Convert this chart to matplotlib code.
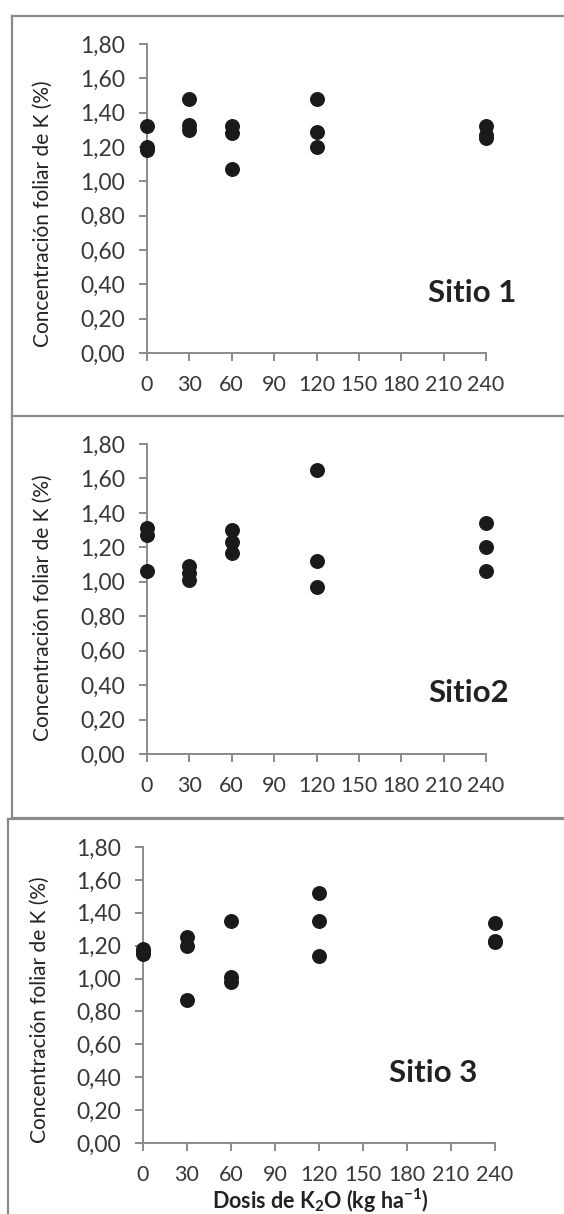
# Concentracion foliar de K segun dosis de K2O, tres sitios
import matplotlib
matplotlib.use('Agg')
from matplotlib import pyplot as plt
from matplotlib.lines import Line2D
from matplotlib.ticker import FuncFormatter

plt.rcParams['font.family'] = ['Lato', 'DejaVu Sans']
plt.rcParams['mathtext.fontset'] = 'custom'
plt.rcParams['mathtext.rm'] = 'Lato'
plt.rcParams['mathtext.bf'] = 'Lato:bold'

# Datos (dosis en kg/ha, concentracion en %)
dosis = [0, 0, 0, 30, 30, 30, 60, 60, 60, 120, 120, 120, 240, 240, 240]
sitio1 = [1.32, 1.20, 1.18, 1.48, 1.33, 1.30, 1.32, 1.28, 1.07,
          1.48, 1.29, 1.20, 1.32, 1.27, 1.25]
sitio2 = [1.31, 1.27, 1.06, 1.09, 1.05, 1.01, 1.30, 1.23, 1.17,
          1.65, 1.12, 0.97, 1.34, 1.20, 1.06]
sitio3 = [1.18, 1.16, 1.15, 1.25, 1.20, 0.87, 1.35, 1.01, 0.98,
          1.52, 1.35, 1.14, 1.34, 1.23, 1.22]
nombres = ['Sitio 1', 'Sitio2', 'Sitio 3']
xticks = [0, 30, 60, 90, 120, 150, 180, 210, 240]
yticks = [0, 0.2, 0.4, 0.6, 0.8, 1.0, 1.2, 1.4, 1.6, 1.8]

W, H = 564, 1214
fig = plt.figure(figsize=(W / 100, H / 100), dpi=100)
fig.patch.set_facecolor('white')

gris = '#8a8a8a'
texto = '#383838'

# posiciones en pixeles: izquierda, derecha, arriba, abajo
cajas = [(147, 486, 44, 353), (147, 486, 444, 754), (143, 495, 847, 1143)]
etiquetas = [(472, 293), (469, 693), (433, 1073)]
ylab_pos = [(43, 214), (43, 608), (40, 1010)]


def fx(px):
    return px / W


def fy(py):
    return 1 - py / H


coma = FuncFormatter(lambda v, p: f'{v:.2f}'.replace('.', ','))

for i, datos in enumerate([sitio1, sitio2, sitio3]):
    l, r, t, b = cajas[i]
    ax = fig.add_axes([fx(l), fy(b), (r - l) / W, (b - t) / H])
    ax.scatter(dosis, datos, s=95, color='#1a1a1a', zorder=3, clip_on=False)
    ax.set_xlim(0, 240)
    ax.set_ylim(0, 1.8)
    ax.set_xticks(xticks)
    ax.set_yticks(yticks)
    ax.yaxis.set_major_formatter(coma)
    for lado in ['top', 'right']:
        ax.spines[lado].set_visible(False)
    for lado in ['left', 'bottom']:
        ax.spines[lado].set_color(gris)
        ax.spines[lado].set_linewidth(1.4)
    ax.tick_params(axis='both', direction='out', length=6, width=1.4,
                   color=gris, labelsize=15.5, labelcolor=texto)
    ax.tick_params(axis='y', labelsize=16.5, pad=10)
    ax.tick_params(axis='x', pad=10)
    ax.set_facecolor('none')
    fig.text(fx(etiquetas[i][0]), fy(etiquetas[i][1]), nombres[i],
             fontsize=22.5, fontweight='bold', color='#222222',
             ha='center', va='center')
    fig.text(fx(ylab_pos[i][0]), fy(ylab_pos[i][1]),
             'Concentración foliar de K (%)', rotation=90,
             fontsize=15, color='#222222', ha='center', va='center')

fig.text(fx(320), fy(1201), r'Dosis de K$_{\mathbf{2}}$O (kg ha$^{\mathbf{-1}}$)',
         fontsize=15.5, fontweight='bold', color='#222222',
         ha='center', va='center')

# marcos de cada panel
marcos = [
    [(12, 16), (W + 5, 16)], [(12, 16), (12, 416)], [(12, 416), (W + 5, 416)],
    [(12, 416), (12, 818)], [(12, 818), (W + 5, 818)],
    [(8, 819), (W + 5, 819)], [(8, 819), (8, H + 5)],
]
for seg in marcos:
    (x0, y0), (x1, y1) = seg
    fig.add_artist(Line2D([fx(x0), fx(x1)], [fy(y0), fy(y1)],
                          color=gris, linewidth=1.6))

fig.savefig('out.png', dpi=100)
